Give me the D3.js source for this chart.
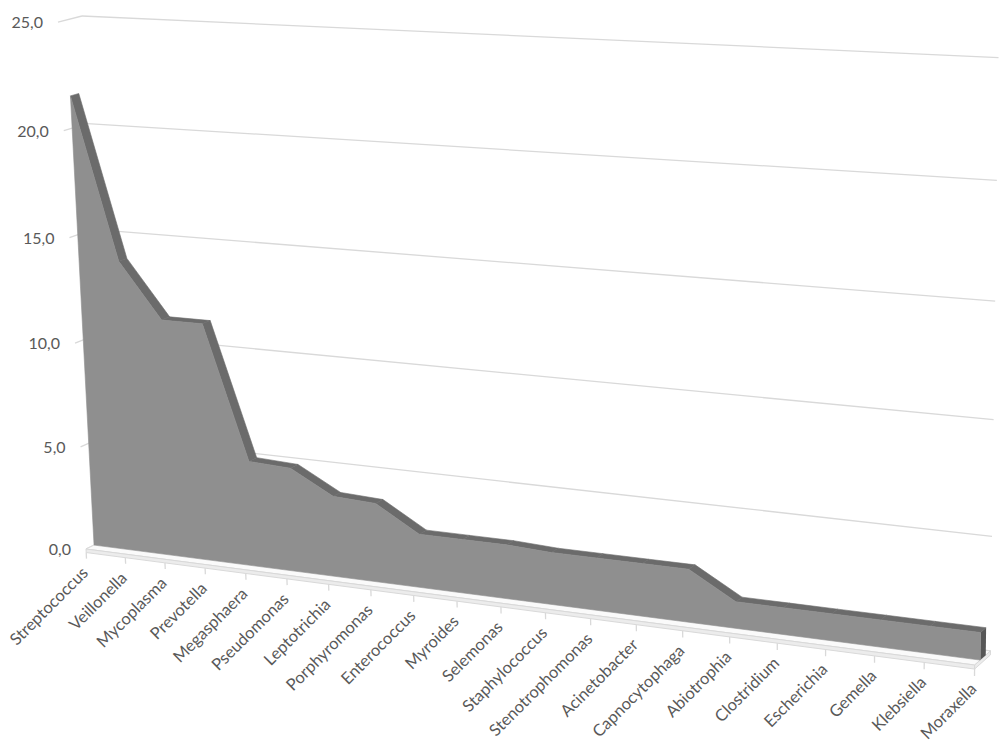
<!DOCTYPE html>
<html>
<head>
<meta charset="utf-8">
<script src="https://cdn.jsdelivr.net/npm/d3@7"></script>
<style>
	body { margin: 0; background: #fff; }
	svg { display: block; }
	text { font-family: Lato, "Open Sans", sans-serif; fill: #595959; }
</style>
</head>
<body>
<div id="chart"></div>
<script>
const categories = [
	"Streptococcus", "Veillonella", "Mycoplasma", "Prevotella", "Megasphaera",
	"Pseudomonas", "Leptotrichia", "Porphyromonas", "Enterococcus", "Myroides",
	"Selemonas", "Staphylococcus", "Stenotrophomonas", "Acinetobacter",
	"Capnocytophaga", "Abiotrophia", "Clostridium", "Escherichia", "Gemella",
	"Klebsiella", "Moraxella"
];
const values = [
	21.5, 13.9, 11.3, 11.3, 5.0, 4.9, 3.8, 3.7, 2.5, 2.5,
	2.5, 2.4, 2.4, 2.4, 2.4, 1.2, 1.2, 1.2, 1.2, 1.2, 1.2
];
const valueTicks = [0, 5, 10, 15, 20, 25];

const W = 999, H = 747;
const svg = d3.select("#chart").append("svg")
	.attr("width", W)
	.attr("height", H);

const x = d3.scalePoint().domain(categories).range([0, 1]);
const y = d3.scaleLinear().domain([0, 25]).range([0, 1]);

// perspective camera:
// origin = front-left floor corner, then one column per world axis (category, value, depth)
const cam = {
	o: [86, 549],
	cx: [767.4, 33.3, -0.1244],
	cy: [-30.18, -527.75, -0.037375],
	cz: [23.95, -5.69, 0.0102]
};
const project = (u, h, z) => {
	const w = 1 + cam.cx[2] * u + cam.cy[2] * h + cam.cz[2] * z;
	return [
		(cam.o[0] + cam.cx[0] * u + cam.cy[0] * h + cam.cz[0] * z) / w,
		(cam.o[1] + cam.cx[1] * u + cam.cy[1] * h + cam.cz[1] * z) / w
	];
};

const Z_FRONT = 0.35, Z_BACK = 0.7;
const FLOOR_T = 0.007;
const line = d3.line();

// back wall gridlines
svg.append("g").selectAll("path")
	.data(valueTicks)
	.enter()
	.append("path")
	.attr("d", t => line([project(0, y(t), 1), project(1, y(t), 1)]))
	.attr("fill", "none")
	.attr("stroke", "#d9d9d9")
	.attr("stroke-width", 1.3);

// side wall gridlines
svg.append("g").selectAll("path")
	.data(valueTicks)
	.enter()
	.append("path")
	.attr("d", t => line([project(0, y(t), 0), project(0, y(t), 1)]))
	.attr("fill", "none")
	.attr("stroke", "#d9d9d9")
	.attr("stroke-width", 1.3);

// floor slab
const floor = svg.append("g");
floor.append("path")
	.attr("d", line([project(0, 0, 0), project(1, 0, 0), project(1, 0, 1), project(0, 0, 1)]) + "Z")
	.attr("fill", "#fafafa")
	.attr("stroke", "#d9d9d9")
	.attr("stroke-width", 1);
floor.append("path")
	.attr("d", line([project(0, 0, 0), project(1, 0, 0), project(1, -FLOOR_T, 0), project(0, -FLOOR_T, 0)]) + "Z")
	.attr("fill", "#ececec")
	.attr("stroke", "#d9d9d9")
	.attr("stroke-width", 1);
floor.append("path")
	.attr("d", line([project(1, 0, 0), project(1, 0, 1), project(1, -FLOOR_T, 1), project(1, -FLOOR_T, 0)]) + "Z")
	.attr("fill", "#ececec")
	.attr("stroke", "#d9d9d9")
	.attr("stroke-width", 1);

// category ticks
floor.selectAll(".tick")
	.data(categories)
	.enter()
	.append("path")
	.attr("class", "tick")
	.attr("d", c => line([project(x(c), -FLOOR_T, 0), project(x(c), -FLOOR_T - 0.012, 0)]))
	.attr("stroke", "#d9d9d9")
	.attr("stroke-width", 1.3);

// area slab
const pts = categories.map((c, i) => ({ u: x(c), h: y(values[i]) }));
const area = svg.append("g");

area.selectAll(".top")
	.data(d3.pairs(pts))
	.enter()
	.append("path")
	.attr("class", "top")
	.attr("d", ([a, b]) => line([
		project(a.u, a.h, Z_FRONT), project(b.u, b.h, Z_FRONT),
		project(b.u, b.h, Z_BACK), project(a.u, a.h, Z_BACK)
	]) + "Z")
	.attr("fill", "#6b6b6b")
	.attr("stroke", "#6b6b6b")
	.attr("stroke-width", 0.6);

const last = pts[pts.length - 1];
area.append("path")
	.attr("d", line([
		project(last.u, 0, Z_FRONT), project(last.u, last.h, Z_FRONT),
		project(last.u, last.h, Z_BACK), project(last.u, 0, Z_BACK)
	]) + "Z")
	.attr("fill", "#575757");

area.append("path")
	.attr("d", line(
		pts.map(p => project(p.u, p.h, Z_FRONT))
			.concat([project(1, 0, Z_FRONT), project(0, 0, Z_FRONT)])
	) + "Z")
	.attr("fill", "#8f8f8f")
	.attr("stroke", "#8f8f8f")
	.attr("stroke-width", 0.6);

// value axis labels
svg.append("g").selectAll("text")
	.data(valueTicks)
	.enter()
	.append("text")
	.attr("x", t => project(0, y(t), 0)[0] - 15)
	.attr("y", t => project(0, y(t), 0)[1] + 2)
	.attr("text-anchor", "end")
	.attr("dominant-baseline", "middle")
	.attr("font-size", 16)
	.text(t => d3.format(".1f")(t).replace(".", ","));

// category labels
svg.append("g").selectAll("text")
	.data(categories)
	.enter()
	.append("text")
	.attr("transform", c => {
		const [px, py] = project(x(c), 0, 0);
		return `translate(${px + 3},${py + 25}) rotate(-45)`;
	})
	.attr("text-anchor", "end")
	.attr("font-size", 16.5)
	.text(c => c);
</script>
</body>
</html>
